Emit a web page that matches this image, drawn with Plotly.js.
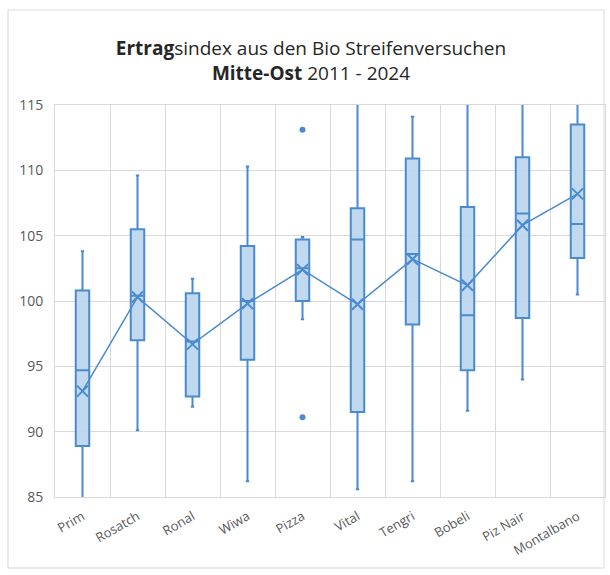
<!DOCTYPE html>
<html>
<head>
<meta charset="utf-8">
<script src="https://cdn.plot.ly/plotly-3.0.1.min.js"></script>
<style>
html,body{margin:0;padding:0;background:#fff;}
#chart{width:610px;height:575px;}
</style>
</head>
<body>
<div id="chart"></div>
<script>
const sorten = ["Prim","Rosatch","Ronal","Wiwa","Pizza","Vital","Tengri","Bobeli","Piz Nair","Montalbano"];
const lowerFence = [84.8, 90.1, 91.9, 86.2, 98.6, 85.6, 86.2, 91.6, 94.0, 100.5];
const q1Values   = [88.9, 97.0, 92.7, 95.5, 100.0, 91.5, 98.2, 94.7, 98.7, 103.3];
const medians    = [94.7, 100.4, 96.9, 100.0, 102.5, 104.7, 103.6, 98.9, 106.7, 105.9];
const q3Values   = [100.8, 105.5, 100.6, 104.2, 104.7, 107.1, 110.9, 107.2, 111.0, 113.5];
const upperFence = [103.8, 109.6, 101.7, 110.3, 104.9, 116.5, 114.1, 116.5, 116.5, 116.5];
const means      = [93.1, 100.3, 96.7, 99.8, 102.4, 99.75, 103.2, 101.2, 105.8, 108.2];
const outlierX   = ["Pizza","Pizza"];
const outlierY   = [113.1, 91.1];
const yTicks     = [85, 90, 95, 100, 105, 110, 115];

const blue = "#4A8AD0";
const fill = "rgba(189,215,238,0.95)";

const traces = [
  {
    type: "box",
    x: sorten,
    q1: q1Values,
    median: medians,
    q3: q3Values,
    lowerfence: lowerFence,
    upperfence: upperFence,
    boxpoints: false,
    fillcolor: fill,
    line: {color: blue, width: 2},
    whiskerwidth: 0.25,
    hoverinfo: "skip",
    showlegend: false
  },
  {
    type: "scatter",
    mode: "lines+markers",
    x: sorten,
    y: means,
    line: {color: blue, width: 1.5},
    marker: {symbol: "x-thin-open", size: 11, color: blue, line: {color: blue, width: 2}},
    showlegend: false
  },
  {
    type: "scatter",
    mode: "markers",
    x: outlierX,
    y: outlierY,
    marker: {symbol: "circle", size: 6, color: blue},
    showlegend: false
  }
];

const layout = {
  width: 610,
  height: 575,
  paper_bgcolor: "#ffffff",
  plot_bgcolor: "#ffffff",
  margin: {l: 55, r: 5, t: 105, b: 78},
  font: {family: "Open Sans, sans-serif", color: "#595959"},
  title: {
    text: "<b>Ertrag</b>sindex aus den Bio Streifenversuchen<br><b>Mitte-Ost</b> 2011 - 2024",
    font: {family: "Open Sans, sans-serif", size: 19, color: "#262626"},
    x: 311/610,
    xref: "container",
    xanchor: "center",
    y: 1 - 55/575,
    yref: "container",
    yanchor: "middle"
  },
  boxgap: 0.65,
  xaxis: {
    type: "category",
    categoryorder: "array",
    categoryarray: sorten,
    range: [-0.5, 9.5],
    autorange: false,
    tickson: "boundaries",
    showgrid: true,
    gridcolor: "#d9d9d9",
    gridwidth: 1,
    ticks: "",
    tickangle: -30,
    ticklabelstandoff: 6,
    tickfont: {size: 13, color: "#595959"},
    showline: true,
    linecolor: "#d9d9d9",
    mirror: true,
    zeroline: false,
    fixedrange: true
  },
  yaxis: {
    range: [85, 115],
    autorange: false,
    tickvals: yTicks,
    ticktext: yTicks.map(String),
    showgrid: true,
    gridcolor: "#d9d9d9",
    gridwidth: 1,
    tickfont: {size: 14, color: "#595959"},
    ticks: "",
    ticklabelstandoff: 8,
    showline: true,
    linecolor: "#d9d9d9",
    mirror: true,
    zeroline: false,
    fixedrange: true
  },
  shapes: [
    {
      type: "rect",
      xref: "paper", yref: "paper",
      x0: (8 - 55) / 550, x1: (604 - 55) / 550,
      y0: (497 - 568) / 392, y1: (497 - 10) / 392,
      line: {color: "#d9d9d9", width: 1},
      fillcolor: "rgba(0,0,0,0)",
      layer: "below"
    }
  ]
};

Plotly.newPlot("chart", traces, layout, {displayModeBar: false, staticPlot: true});
</script>
</body>
</html>
